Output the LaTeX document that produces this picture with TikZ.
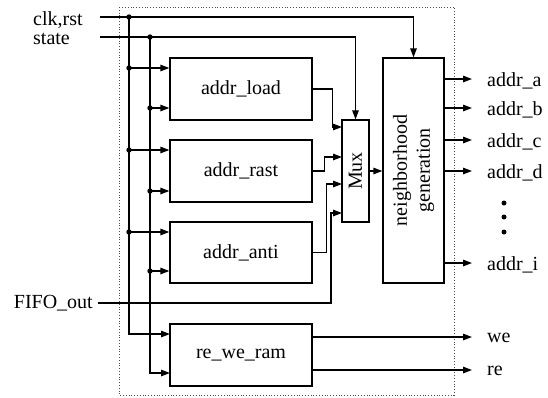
\documentclass[tikz,border=0pt]{standalone}
\usepackage{fontspec}
\setmainfont{Liberation Serif}
\usetikzlibrary{arrows.meta}
\begin{document}
\begin{tikzpicture}[x=1pt,y=-1pt,
  sig/.style={line width=1.3pt},
  arr/.style={line width=1.3pt,-{Triangle[length=9pt,width=6.5pt]}},
  blk/.style={draw,line width=1.3pt,rectangle,inner sep=0pt,font=\fontsize{20}{23}\selectfont},
  lbl/.style={inner sep=0pt,font=\fontsize{20}{23}\selectfont},
  dotp/.style={fill=black},
  frame/.style={draw=black!70,dotted,line width=0.8pt}]
\useasboundingbox (0,0) rectangle (548,397);
% dotted frame
\draw[frame] (119,7) rectangle (454,395);
% blocks
\node[blk,minimum width=142pt,minimum height=62pt] (load) at (241,89) {addr\_load};
\node[blk,minimum width=142pt,minimum height=62pt] (rast) at (241,171) {addr\_rast};
\node[blk,minimum width=142pt,minimum height=61pt] (anti) at (241,252.5) {addr\_anti};
\node[blk,minimum width=142pt,minimum height=62pt] (rwr) at (241,355) {re\_we\_ram};
\node[blk,minimum width=27pt,minimum height=102pt] (mux) at (355.5,171) {};
\node[lbl,rotate=90] (muxt) at (mux.center) {Mux};
\node[blk,minimum width=61pt,minimum height=225pt] (ng) at (413.5,170.5) {};
\node[lbl,rotate=90,align=center] (ngt) at (ng.center) {neighborhood\\generation};
% input labels
\node[lbl,anchor=base west] (clkl) at (33,25) {clk,rst};
\node[lbl,anchor=base west] (statel) at (33,44) {state};
\node[lbl,anchor=base east] (fifol) at (93,308) {FIFO\_out};
% coordinates
\coordinate (clkin) at (100,17);
\coordinate (statein) at (100,37);
\coordinate (fifoin) at (98,303);
\coordinate (c0) at (129,17);
\coordinate (c1) at (129,68);
\coordinate (c2) at (129,150);
\coordinate (c3) at (129,232);
\coordinate (s0) at (150,37);
\coordinate (s1) at (150,108);
\coordinate (s2) at (150,191);
\coordinate (s3) at (150,271);
\coordinate (rwrA) at (170,334);
\coordinate (rwrB) at (170,373);
\coordinate (m1) at (342,127);
\coordinate (m2) at (342,157);
\coordinate (m3) at (342,184);
\coordinate (m4) at (342,213);
% clk,rst and state lines
\draw[arr] (clkin) -| (ng.north);
\draw[arr] (statein) -| (mux.north);
% buses
\draw[arr] (c0) |- (rwrA);
\draw[arr] (s0) |- (rwrB);
\draw[arr] (c1) -- (c1 -| load.west);
\draw[arr] (s1) -- (s1 -| load.west);
\draw[arr] (c2) -- (c2 -| rast.west);
\draw[arr] (s2) -- (s2 -| rast.west);
\draw[arr] (c3) -- (c3 -| anti.west);
\draw[arr] (s3) -- (s3 -| anti.west);
\foreach \p in {c0,c1,c2,c3,s0,s1,s2,s3} \fill[dotp] (\p) circle (2.7pt);
% mux inputs
\draw[arr] (load.east) -- ++(20,0) |- (m1);
\draw[arr] (rast.east) -- ++(12,0) |- (m2);
\draw[arr] (anti.east) -- ++(14,0) |- (m3);
\draw[arr] (fifoin) -- ++(233,0) |- (m4);
% mux output
\draw[arr] (mux.east) -- (mux.east -| ng.west);
% outputs
\coordinate (oa) at (472,79);
\coordinate (ob) at (472,108);
\coordinate (oc) at (472,140);
\coordinate (od) at (472,171);
\coordinate (oi) at (472,263);
\coordinate (owe) at (472,337);
\coordinate (ore) at (472,370);
\foreach \o in {oa,ob,oc,od,oi} \draw[arr] (ng.east |- \o) -- (\o);
\draw[arr] (rwr.east |- owe) -- (owe);
\draw[arr] (rwr.east |- ore) -- (ore);
\node[lbl,anchor=base west] (la) at (487,86) {addr\_a};
\node[lbl,anchor=base west] (lb) at (487,115) {addr\_b};
\node[lbl,anchor=base west] (lc) at (487,147) {addr\_c};
\node[lbl,anchor=base west] (ld) at (487,178) {addr\_d};
\node[lbl,anchor=base west] (li) at (487,270) {addr\_i};
\node[lbl,anchor=base west] (lwe) at (487,342) {we};
\node[lbl,anchor=base west] (lre) at (487,375) {re};
\foreach \y in {203,217,232} \fill (504,\y) circle (2.5pt);
\end{tikzpicture}
\end{document}
